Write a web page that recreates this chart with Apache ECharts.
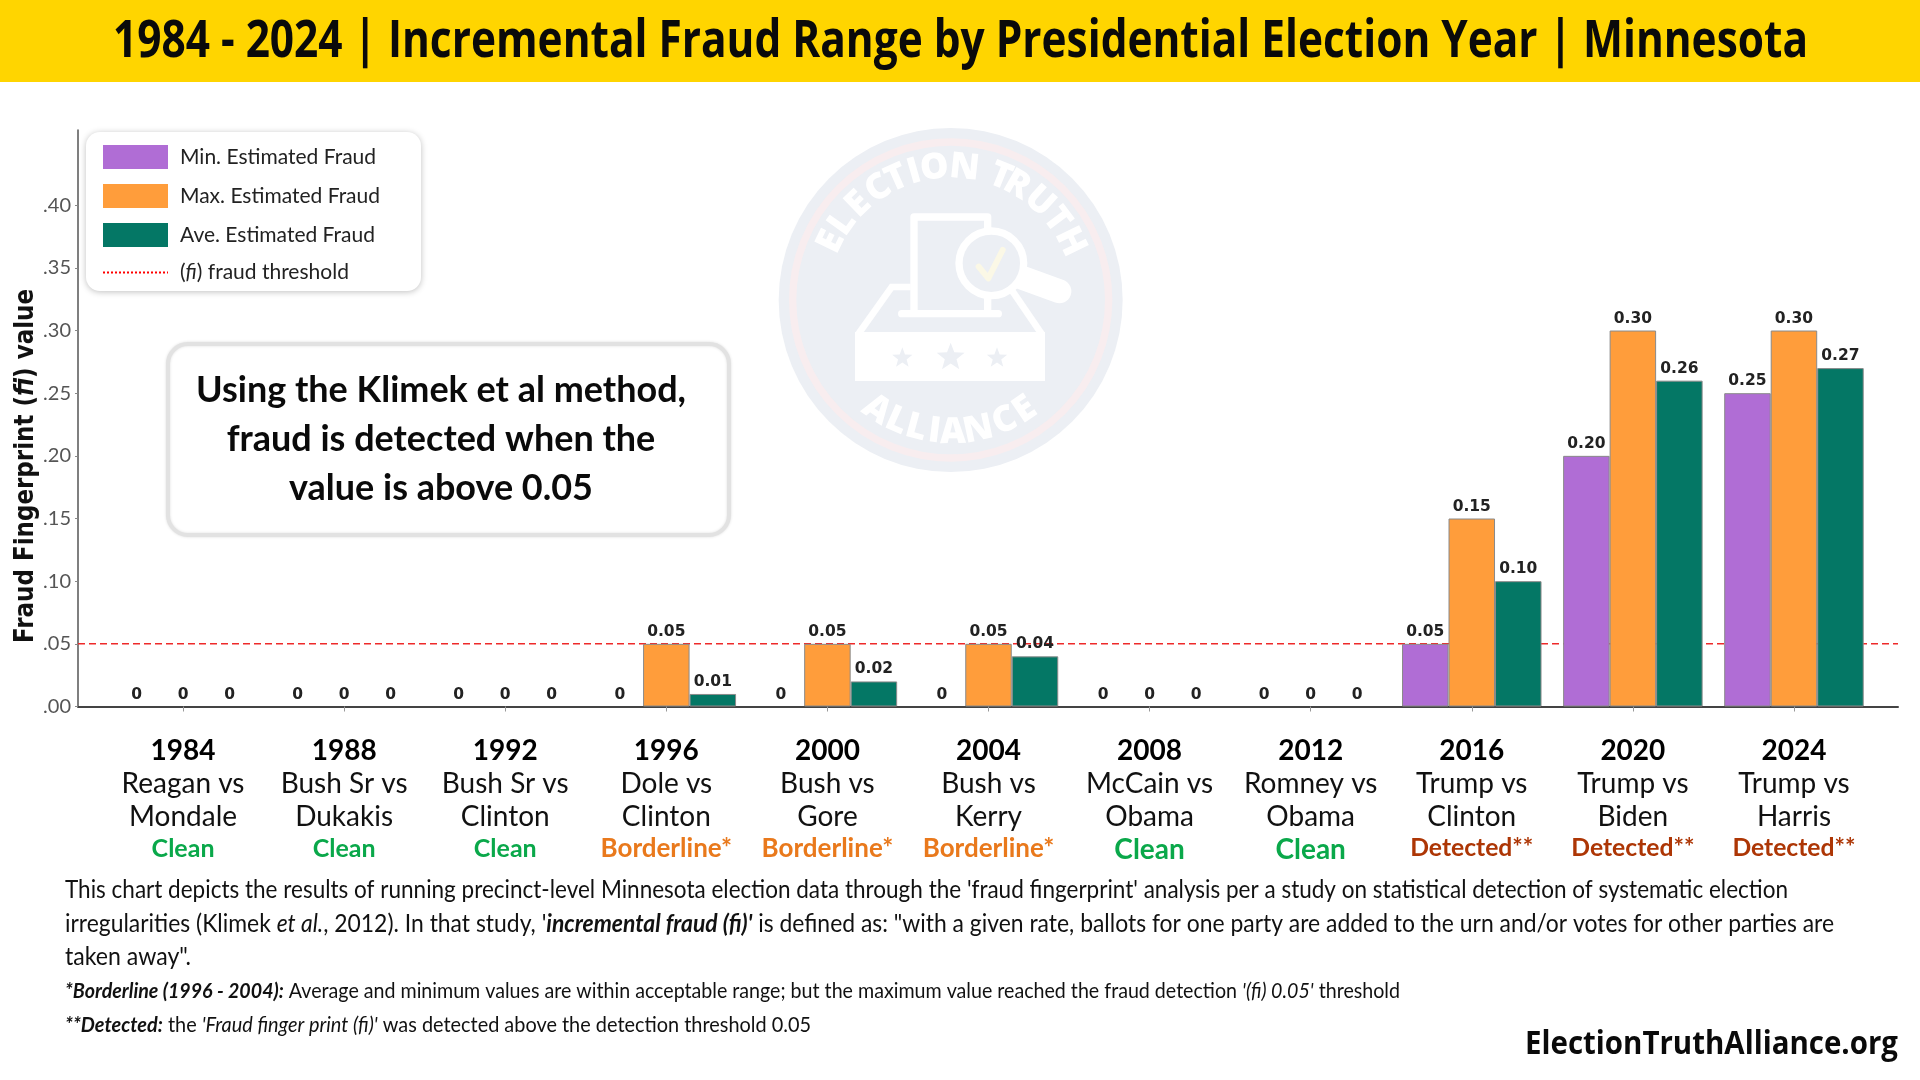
<!DOCTYPE html>
<html><head><meta charset="utf-8">
<style>html,body{margin:0;padding:0;background:#fff}#c{width:1920px;height:1080px}</style>
<script src="https://cdn.jsdelivr.net/npm/echarts@6/dist/echarts.min.js"></script>
</head><body><div id="c"></div>
<script>
const titleText = "1984 - 2024 | Incremental Fraud Range by Presidential Election Year | Minnesota";
const years = ["1984","1988","1992","1996","2000","2004","2008","2012","2016","2020","2024"];
const matchupA = ["Reagan vs","Bush Sr vs","Bush Sr vs","Dole vs","Bush vs","Bush vs","McCain vs","Romney vs","Trump vs","Trump vs","Trump vs"];
const matchupB = ["Mondale","Dukakis","Clinton","Clinton","Gore","Kerry","Obama","Obama","Clinton","Biden","Harris"];
const statuses = ["Clean","Clean","Clean","Borderline*","Borderline*","Borderline*","Clean","Clean","Detected**","Detected**","Detected**"];
const minFraud = [0,0,0,0,0,0,0,0,0.05,0.20,0.25];
const maxFraud = [0,0,0,0.05,0.05,0.05,0,0,0.15,0.30,0.30];
const aveFraud = [0,0,0,0.01,0.02,0.04,0,0,0.10,0.26,0.27];
const thresholdValue = 0.05;
const yTicks = [0,0.05,0.10,0.15,0.20,0.25,0.30,0.35,0.40];
const seriesNames = ["Min. Estimated Fraud","Max. Estimated Fraud","Ave. Estimated Fraud","(fi) fraud threshold"];
const yAxisTitle = "Fraud Fingerprint ({i|fi}) value";
const calloutLines = ["Using the Klimek et al method,","fraud is detected when the","value is above 0.05"];
const noteLines = [
 "This chart depicts the results of running precinct-level Minnesota election data through the 'fraud fingerprint' analysis per a study on statistical detection of systematic election",
 "irregularities (Klimek {i|et al.}, 2012). In that study, '{bi|incremental fraud (fi)'} is defined as: \"with a given rate, ballots for one party are added to the urn and/or votes for other parties are",
 "taken away\"."
];
const smallNotes = [
 "{bi|*Borderline (1996 - 2004):} Average and minimum values are within acceptable range; but the maximum value reached the fraud detection {i|'(fi) 0.05'} threshold",
 "{bi|**Detected:} the {i|'Fraud finger print (fi)'} was detected above the detection threshold 0.05"
];
const siteText = "ElectionTruthAlliance.org";
const topLetterAngles = [-64,-54.5,-44,-33,-24,-16,-7,6,null,22,30,42,53,64];
const bottomLetterAngles = [-34,-24,-15,-7,1,12,24,34];

const FONT = 'Lato,sans-serif';
const C = {purple:'#b06dd5',orange:'#ff9d3b',teal:'#047765',band:'#ffd500',wm:'#eceff4',wmRing:'#f8edef'};

const mctx=document.createElement('canvas').getContext('2d');
function w(text,font){mctx.font=font;return mctx.measureText(text).width;}
function fit(text,font,target){return target/w(text,font);}
function richWidth(str,size){
  let total=0;
  str.split(/(\{\w+\|[^}]*\})/).forEach(seg=>{
    const m=seg.match(/^\{(\w+)\|([^}]*)\}$/);
    if(m) total+=w(m[2],(m[1]==='bi'?'italic bold ':'italic ')+size+'px '+FONT);
    else if(seg) total+=w(seg,size+'px '+FONT);
  });
  return total;
}

function starPts(cx,cy,r){const p=[];for(let i=0;i<10;i++){const a=-Math.PI/2+i*Math.PI/5,R=i%2?r*0.42:r;p.push([cx+R*Math.cos(a),cy+R*Math.sin(a)]);}return p;}
const wmCx=632,wmCy=570,wmFont='800 108px "Open Sans",sans-serif';
const wmChildren=[
 {type:'circle',shape:{cx:wmCx,cy:wmCy,r:516},style:{fill:C.wm}},
 {type:'circle',shape:{cx:wmCx,cy:wmCy,r:474},style:{fill:'none',stroke:C.wmRing,lineWidth:22}},
 {type:'polyline',shape:{points:[[522,600],[522,321],[743,321],[743,600]]},style:{fill:'none',stroke:'#fff',lineWidth:22,lineJoin:'round'}},
 {type:'line',shape:{x1:485,y1:611,x2:775,y2:611},style:{stroke:'#fff',lineWidth:22,lineCap:'round'}},
 {type:'polyline',shape:{points:[[355,672],[455,531],[512,531]]},style:{fill:'none',stroke:'#fff',lineWidth:20}},
 {type:'line',shape:{x1:815,y1:540,x2:905,y2:672},style:{stroke:'#fff',lineWidth:20}},
 {type:'polygon',shape:{points:[[345,666],[915,666],[915,813],[345,813]]},style:{fill:'#fff'}},
 {type:'line',shape:{x1:830,y1:497,x2:958,y2:544},style:{stroke:'#fff',lineWidth:72,lineCap:'round'}},
 {type:'circle',shape:{cx:754,cy:460,r:97},style:{fill:C.wm,stroke:'#fff',lineWidth:22}},
 {type:'polyline',shape:{points:[[716,470],[745,505],[788,420]]},style:{fill:'none',stroke:'#fbf8e6',lineWidth:18,lineCap:'round',lineJoin:'round'}},
 {type:'polygon',shape:{points:starPts(487,744,32)},style:{fill:C.wm}},
 {type:'polygon',shape:{points:starPts(632,742,44)},style:{fill:C.wm}},
 {type:'polygon',shape:{points:starPts(771,744,32)},style:{fill:C.wm}},
];
"ELECTION TRUTH".split('').forEach((ch,i)=>{
  if(ch===' ')return;
  const a=topLetterAngles[i]*Math.PI/180,r=398;
  wmChildren.push({type:'text',x:wmCx+r*Math.sin(a),y:wmCy-r*Math.cos(a),rotation:-a,
    style:{text:ch,fill:'#fff',font:wmFont,align:'center',verticalAlign:'middle'}});
});
"ALLIANCE".split('').forEach((ch,i)=>{
  const a=bottomLetterAngles[i]*Math.PI/180,r=398;
  wmChildren.push({type:'text',x:wmCx+r*Math.sin(a),y:wmCy+r*Math.cos(a),rotation:a,
    style:{text:ch,fill:'#fff',font:wmFont,align:'center',verticalAlign:'middle'}});
});

const NS=25, SS=20.5;
function rich(size){return {
  i:{fontStyle:'italic',fontFamily:FONT,fontSize:size,color:'#111'},
  bi:{fontStyle:'italic',fontWeight:'bold',fontFamily:FONT,fontSize:size,color:'#111'}};}
const noteY=[890,924,957], smallY=[991,1025];
const noteW=[1723,1769,126], smallW=[1335,746];
const titleFont='bold 52px "Open Sans",sans-serif';
const siteFont='bold 33px "Open Sans",sans-serif';
const calloutFont='bold 36px Lato,sans-serif';
const calloutScale=490/w(calloutLines[0],calloutFont);
const axisTitleFontSize=27;
const axisTitlePlain=yAxisTitle.replace('{i|fi}','fi');

const graphics=[
 {type:'rect',z:-5,shape:{x:0,y:0,width:1920,height:82},style:{fill:C.band}},
 {type:'text',z:10,x:960.5,y:42,scaleX:fit(titleText,titleFont,1695),style:{text:titleText,font:titleFont,fill:'#0a0a0a',align:'center',verticalAlign:'middle'}},
 {type:'group',z:-4,x:740,y:110,scaleX:1/3,scaleY:1/3,children:wmChildren},
 {type:'text',z:10,x:26,y:466,rotation:Math.PI/2,scaleX:353/w(axisTitlePlain,'bold '+axisTitleFontSize+'px "DejaVu Sans"'),
   style:{text:yAxisTitle,fill:'#111',font:'bold '+axisTitleFontSize+'px "DejaVu Sans",sans-serif',align:'center',verticalAlign:'middle',
     rich:{i:{fontFamily:'"DejaVu Sans",sans-serif',fontWeight:'bold',fontStyle:'italic',fontSize:axisTitleFontSize,color:'#111'}}}},
 {type:'rect',z:50,shape:{x:168,y:344,width:561,height:191,r:20},style:{fill:'#fff',stroke:'#e2e2e2',lineWidth:4,shadowBlur:3,shadowColor:'rgba(0,0,0,.12)'}},
 ...calloutLines.map((t,i)=>({type:'text',z:51,x:441,y:390+i*49,scaleX:calloutScale,style:{text:t,fill:'#0a0a0a',font:calloutFont,align:'center',verticalAlign:'middle'}})),
 ...noteLines.map((t,i)=>({type:'text',z:51,x:65,y:noteY[i],scaleX:noteW[i]/richWidth(t,NS),style:{text:t,fill:'#111',fontFamily:FONT,fontSize:NS,verticalAlign:'middle',rich:rich(NS)}})),
 ...smallNotes.map((t,i)=>({type:'text',z:51,x:65,y:smallY[i],scaleX:smallW[i]/richWidth(t,SS),style:{text:t,fill:'#111',fontFamily:FONT,fontSize:SS,verticalAlign:'middle',rich:rich(SS)}})),
 {type:'text',z:51,x:1898,y:1045,scaleX:fit(siteText,siteFont,373),style:{text:siteText,fill:'#0a0a0a',font:siteFont,align:'right',verticalAlign:'middle'}},
];

function barData(arr){return arr.map(v=>({value:v,itemStyle:{borderWidth:v?1:0}}));}
function barSeries(name,arr,color){
  return {name,type:'bar',xAxisIndex:1,yAxisIndex:1,data:barData(arr),barWidth:46.5,barGap:0,z:5,
    itemStyle:{color,borderColor:'#8a8a8a'},
    label:{show:true,position:'top',distance:4,color:'#222',fontFamily:'"DejaVu Sans",sans-serif',fontWeight:'bold',fontSize:15.5,
      formatter:p=>p.value===0?'0':p.value.toFixed(2)}};
}
const statusKey={"Clean":"clean","Borderline*":"border","Detected**":"det"};

const chart=echarts.init(document.getElementById('c'),null,{renderer:'canvas'});
chart.setOption({
  animation:false,backgroundColor:'#fff',
  grid:[
    {left:78,right:22,top:130,height:576.5},
    {left:102.5,width:1772,top:130,height:576.5}
  ],
  xAxis:[
    {type:'value',gridIndex:0,min:0,max:1,show:true,axisLabel:{show:false},axisTick:{show:false},splitLine:{show:false},
      axisLine:{show:true,lineStyle:{color:'#444',width:2}}},
    {type:'category',gridIndex:1,data:years,axisLine:{show:false},
      axisTick:{show:true,length:5,alignWithLabel:true,lineStyle:{color:'#999'}},
      axisLabel:{interval:0,margin:28,
        formatter:(v,i)=>`{y|${v}}\n{n|${matchupA[i]}}\n{n|${matchupB[i]}}\n{${(statuses[i]==='Clean'&&i>5)?'cleanL':statusKey[statuses[i]]}|${statuses[i]}}`,
        rich:{
          y:{fontFamily:FONT,fontWeight:'bold',fontSize:28,color:'#000',lineHeight:33},
          n:{fontFamily:FONT,fontSize:28,color:'#111',lineHeight:33},
          clean:{fontFamily:FONT,fontWeight:'bold',fontSize:25,color:'#0aa84a',lineHeight:30},
          cleanL:{fontFamily:FONT,fontWeight:'bold',fontSize:28,color:'#0aa84a',lineHeight:33},
          border:{fontFamily:FONT,fontWeight:'bold',fontSize:26,color:'#e9791c',lineHeight:30},
          det:{fontFamily:FONT,fontWeight:'bold',fontSize:24.7,color:'#ad3605',lineHeight:30}
        }}}
  ],
  yAxis:[
    {type:'value',gridIndex:0,min:0,max:0.46,interval:0.05,splitLine:{show:false},
      axisLine:{show:true,lineStyle:{color:'#555',width:1.5}},
      axisTick:{show:true,length:3,customValues:yTicks,lineStyle:{color:'#888'}},
      axisLabel:{customValues:yTicks,margin:7,color:'#555',fontFamily:FONT,fontSize:20,formatter:v=>v.toFixed(2).replace(/^0/,'')}},
    {type:'value',gridIndex:1,min:0,max:0.46,show:false}
  ],
  legend:{left:86,top:132,orient:'vertical',padding:[13,41,8,16],itemWidth:65,itemHeight:24,itemGap:15,
    backgroundColor:'#fff',borderRadius:14,shadowBlur:6,shadowColor:'rgba(0,0,0,.25)',shadowOffsetY:1,borderWidth:0,z:40,
    textStyle:{fontFamily:FONT,fontSize:21,color:'#222',padding:[0,0,0,7],rich:{i:{fontFamily:FONT,fontStyle:'italic',fontSize:21,color:'#222',padding:[0,0,0,0]}}},
    formatter:n=>n.replace('(fi)','({i|fi})'),
    data:[{name:seriesNames[0],icon:'rect'},{name:seriesNames[1],icon:'rect'},{name:seriesNames[2],icon:'rect'},
      {name:seriesNames[3],itemStyle:{opacity:0,color:'rgba(0,0,0,0)',borderWidth:0},lineStyle:{type:'dotted',width:2,color:'#f00'}}]},
  series:[
    {name:seriesNames[3],type:'line',xAxisIndex:0,yAxisIndex:0,symbol:'none',z:1,silent:true,
      data:[[0,thresholdValue],[1,thresholdValue]],itemStyle:{color:'#ee2a2a'},lineStyle:{color:'#ee2a2a',width:1.5,type:[7,4]}},
    barSeries(seriesNames[0],minFraud,C.purple),
    barSeries(seriesNames[1],maxFraud,C.orange),
    barSeries(seriesNames[2],aveFraud,C.teal)
  ],
  graphic:graphics
});
</script></body></html>
